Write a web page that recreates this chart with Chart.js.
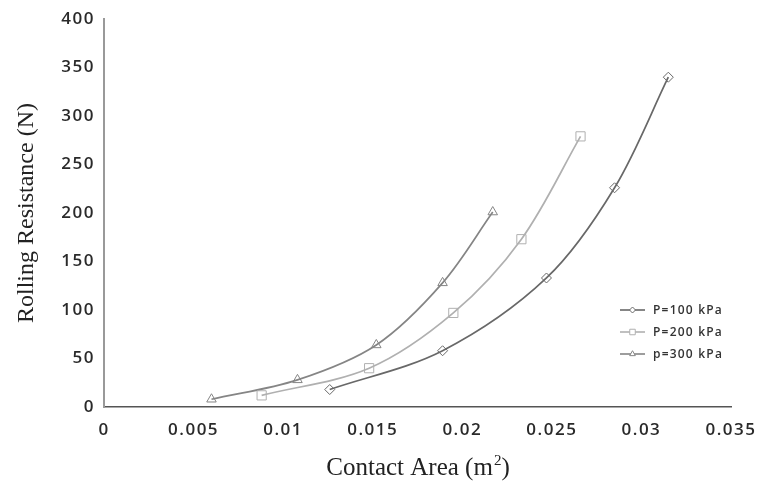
<!DOCTYPE html>
<html>
<head>
<meta charset="utf-8">
<script src="https://cdn.jsdelivr.net/npm/chart.js@4"></script>
<style>
  body { margin: 0; background: #fff; }
  #wrap { width: 757px; height: 481px; }
</style>
</head>
<body>
<div id="wrap"><canvas id="chart"></canvas></div>
<script>
// data
const area100 = [0.0126, 0.0189, 0.0247, 0.0285, 0.0315];
const force100 = [18, 58, 133, 226, 340];
const area200 = [0.0088, 0.0148, 0.0195, 0.0233, 0.0266];
const force200 = [12, 40, 97, 173, 279];
const area300 = [0.0060, 0.0108, 0.0152, 0.0189, 0.0217];
const force300 = [8, 28, 64, 128, 201];
const xTicks = [0, 0.005, 0.01, 0.015, 0.02, 0.025, 0.03, 0.035];
const yTicks = [0, 50, 100, 150, 200, 250, 300, 350, 400];
const xTitle = "Contact Area (m";
const yTitle = "Rolling Resistance (N)";

const pts = (xs, ys) => xs.map((x, i) => ({ x: x, y: ys[i] }));

// the original tick text looks stretched sideways, a bit of letter spacing fakes that
const spacing = {
    id: "spacing",
    beforeDraw(chart) { chart.ctx.letterSpacing = "1.5px"; }
};

// axis titles (serif, with a real superscript 2) and the small legend
const extras = {
    id: "extras",
    afterDraw(chart) {
        const c = chart.ctx;
        const area = chart.chartArea;
        c.save();
        c.letterSpacing = "0px";
        c.fillStyle = "#222";
        c.textBaseline = "alphabetic";

        // x title
        c.font = "25px 'Liberation Serif'";
        const w1 = c.measureText(xTitle).width;
        c.font = "15px 'Liberation Serif'";
        const w2 = c.measureText("2").width;
        c.font = "25px 'Liberation Serif'";
        const w3 = c.measureText(")").width;
        let x0 = (area.left + area.right) / 2 - (w1 + w2 + w3) / 2;
        const base = 475;
        c.textAlign = "left";
        c.fillText(xTitle, x0, base);
        c.font = "15px 'Liberation Serif'";
        c.fillText("2", x0 + w1 + 1, base - 10);
        c.font = "25px 'Liberation Serif'";
        c.fillText(")", x0 + w1 + w2 + 1, base);

        // y title
        c.save();
        c.translate(27, (area.top + area.bottom) / 2);
        c.rotate(-Math.PI / 2);
        c.font = "24px 'Liberation Serif'";
        c.textAlign = "center";
        c.textBaseline = "middle";
        c.fillText(yTitle, 0, 0);
        c.restore();

        // legend
        chart.data.datasets.forEach((ds, i) => {
            const y = 310 + i * 22;
            const x = 620;
            c.strokeStyle = ds.borderColor;
            c.lineWidth = 1.6;
            c.beginPath();
            c.moveTo(x, y);
            c.lineTo(x + 25, y);
            c.stroke();
            c.fillStyle = "#fff";
            c.lineWidth = 1;
            Chart.helpers.drawPoint(c, {
                pointStyle: ds.pointStyle,
                radius: ds.pointRadius * 0.6,
                borderWidth: 1
            }, x + 12.5, y);
            c.fillStyle = "#333";
            c.letterSpacing = "1.2px";
            c.font = "600 12px 'Open Sans'";
            c.textAlign = "left";
            c.textBaseline = "middle";
            c.fillText(ds.label, x + 33, y + 1);
        });
        c.restore();
    }
};

function series(label, data, color, style, r) {
    return {
        label: label,
        data: data,
        showLine: true,
        borderColor: color,
        backgroundColor: "#fff",
        borderWidth: 1.7,
        tension: 0.33,
        pointStyle: style,
        pointRadius: r,
        pointBorderWidth: 1,
        pointBorderColor: color,
        pointBackgroundColor: "rgba(255,255,255,0)"
    };
}

new Chart(document.getElementById("chart"), {
    type: "scatter",
    data: {
        datasets: [
            series("P=100 kPa", pts(area100, force100), "#686868", "rectRot", 5),
            series("P=200 kPa", pts(area200, force200), "#b0b0b0", "rect", 6.5),
            series("p=300 kPa", pts(area300, force300), "#858585", "triangle", 5.5)
        ]
    },
    options: {
        responsive: true,
        maintainAspectRatio: false,
        animation: false,
        layout: { padding: { top: 19, right: 26, left: 12, bottom: 0 } },
        plugins: { legend: { display: false }, tooltip: { enabled: false } },
        scales: {
            x: {
                type: "linear",
                min: 0,
                max: 0.035,
                afterBuildTicks: s => { s.ticks = xTicks.map(v => ({ value: v })); },
                grid: { display: false, drawTicks: true, tickLength: 5, tickColor: "#555" },
                border: { color: "#555", width: 1.5 },
                ticks: {
                    color: "#2a2a2a",
                    font: { family: "'Open Sans'", size: 17, weight: "600" },
                    padding: 8,
                    maxRotation: 0,
                    callback: v => String(v)
                },
                afterFit: s => { s.height = 74; s.paddingLeft = 0; s.paddingRight = 0; }
            },
            y: {
                min: 0,
                max: 400,
                afterBuildTicks: s => { s.ticks = yTicks.map(v => ({ value: v })); },
                grid: { display: false, drawTicks: true, tickLength: 5, tickColor: "#999" },
                border: { color: "#999", width: 2 },
                ticks: {
                    color: "#2a2a2a",
                    font: { family: "'Open Sans'", size: 17, weight: "600" },
                    padding: 4
                },
                afterFit: s => { s.width = 92; }
            }
        }
    },
    plugins: [spacing, extras]
});
</script>
</body>
</html>
